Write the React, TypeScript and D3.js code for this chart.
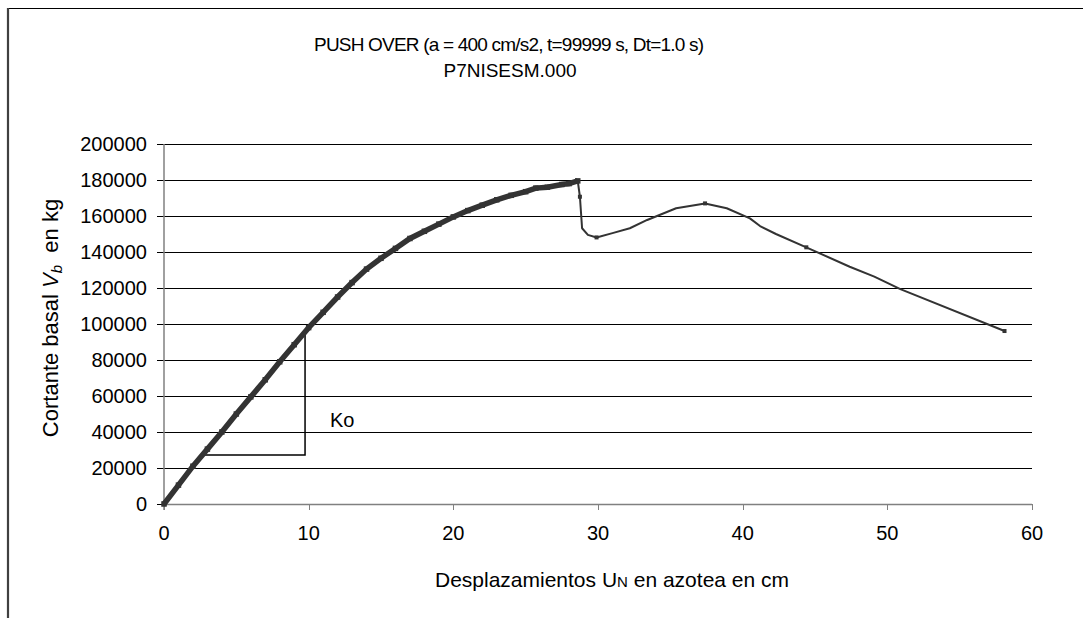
import React from "react";
import * as d3 from "d3";

const titleLine1 = "PUSH OVER (a = 400 cm/s2, t=99999 s, Dt=1.0 s)";
const titleLine2 = "P7NISESM.000";

const xTicks = [0, 10, 20, 30, 40, 50, 60];
const yTicks = [0, 20000, 40000, 60000, 80000, 100000, 120000, 140000, 160000, 180000, 200000];

// pre-peak pushover curve (dense markers)
const prePeakX = [0, 1, 2, 3, 4, 5, 6, 7, 8, 9, 10, 11, 12, 13, 14, 15, 16, 17, 18, 19, 20, 21, 22, 23, 24, 25, 25.7, 26.5, 27.5, 28.0, 28.6];
const prePeakY = [0, 10500, 21000, 30500, 40000, 50000, 59500, 69000, 79000, 88500, 98000, 106500, 115000, 123000, 130500, 136500, 142000, 147500, 151500, 155500, 159500, 163000, 166000, 169000, 171500, 173500, 175500, 176000, 177500, 178000, 179500];

// post-peak curve
const postPeakX = [28.6, 28.75, 28.9, 29.3, 29.9, 31.0, 32.2, 33.4, 35.4, 37.4, 38.9, 40.5, 41.2, 42.3, 44.4, 47.4, 49.1, 50.9, 58.1];
const postPeakY = [179500, 170700, 153200, 149500, 148100, 150500, 153200, 157800, 164300, 167000, 164300, 158700, 154400, 150000, 142600, 131800, 126300, 119400, 96100];
const postMarkerX = [28.75, 29.9, 37.4, 44.4, 58.1];
const postMarkerY = [170700, 148100, 167000, 142600, 96100];

// stiffness triangle Ko
const koX = [2.7, 9.75, 9.75];
const koY = [27200, 27200, 95000];
const koLabel = "Ko";

export default function App() {
  const W = 1083, H = 618;
  const x = d3.scaleLinear().domain([0, 60]).range([164, 1032]);
  const y = d3.scaleLinear().domain([0, 200000]).range([504, 144]);
  const line = d3.line<[number, number]>().x(d => x(d[0])).y(d => y(d[1]));
  const pre: [number, number][] = prePeakX.map((v, i) => [v, prePeakY[i]]);
  const post: [number, number][] = postPeakX.map((v, i) => [v, postPeakY[i]]);
  const ko: [number, number][] = koX.map((v, i) => [v, koY[i]]);
  const font = "'Liberation Sans', Arial, sans-serif";
  return (
    <svg width={W} height={H} style={{ position: "absolute", left: 0, top: 0, background: "#fff" }} fontFamily={font}>
      <rect x={0} y={0} width={W} height={H} fill="#fff" />
      {/* chart border (top and left visible) */}
      <line x1={8} y1={8.5} x2={W} y2={8.5} stroke="#000" strokeWidth={1.2} />
      <line x1={8} y1={8} x2={8} y2={H} stroke="#404040" strokeWidth={2.2} />
      {/* title */}
      <text x={509} y={51} textAnchor="middle" fontSize={19} fill="#000" textLength={390} lengthAdjust="spacing">{titleLine1}</text>
      <text x={510} y={77} textAnchor="middle" fontSize={19} fill="#000">{titleLine2}</text>
      {/* gridlines */}
      {yTicks.map(t => t === 0 ? null : (
        <line key={"g" + t} x1={157} x2={1032} y1={Math.round(y(t)) + 0.5} y2={Math.round(y(t)) + 0.5} stroke="#000" strokeWidth={1} />
      ))}
      <line x1={157} x2={164} y1={504.5} y2={504.5} stroke="#000" strokeWidth={1} />
      {/* axes */}
      <line x1={164} x2={164} y1={144} y2={510} stroke="#808080" strokeWidth={1.5} />
      <line x1={164} x2={1032} y1={504.5} y2={504.5} stroke="#808080" strokeWidth={1.5} />
      {xTicks.map(t => (
        <line key={"xt" + t} x1={Math.round(x(t)) + 0.5} x2={Math.round(x(t)) + 0.5} y1={504} y2={510} stroke="#808080" strokeWidth={1} />
      ))}
      {/* tick labels */}
      {yTicks.map(t => (
        <text key={"yl" + t} x={147} y={y(t)} dy="0.36em" textAnchor="end" fontSize={20} fill="#000">{t}</text>
      ))}
      {xTicks.map(t => (
        <text key={"xl" + t} x={x(t)} y={540} textAnchor="middle" fontSize={20} fill="#000">{t}</text>
      ))}
      {/* axis titles */}
      <text x={612} y={587} textAnchor="middle" fontSize={21} fill="#000">
        Desplazamientos U<tspan fontSize={15}>N</tspan> en azotea en cm
      </text>
      <text transform="translate(58,318) rotate(-90)" textAnchor="middle" fontSize={22} fill="#000">
        Cortante basal <tspan fontStyle="italic">V</tspan><tspan fontStyle="italic" fontSize={15} dy={4}>b</tspan><tspan dy={-4}>{"\u00a0\u00a0en kg"}</tspan>
      </text>
      {/* Ko triangle */}
      <path d={line(ko) || ""} fill="none" stroke="#000" strokeWidth={1.5} />
      <text x={330} y={427} fontSize={20} fill="#000">{koLabel}</text>
      {/* post-peak curve */}
      <path d={line(post) || ""} fill="none" stroke="#333" strokeWidth={2} strokeLinejoin="round" />
      {postMarkerX.map((v, i) => (
        <rect key={"pm" + i} x={x(v) - 2} y={y(postMarkerY[i]) - 2} width={4} height={4} fill="#333" />
      ))}
      {/* pre-peak dense curve */}
      <path d={line(pre) || ""} fill="none" stroke="#333" strokeWidth={5.5} />
      {pre.map((d, i) => (
        <rect key={"m" + i} x={x(d[0]) - 2.75} y={y(d[1]) - 2.75} width={5.5} height={5.5} fill="#333" />
      ))}
    </svg>
  );
}
